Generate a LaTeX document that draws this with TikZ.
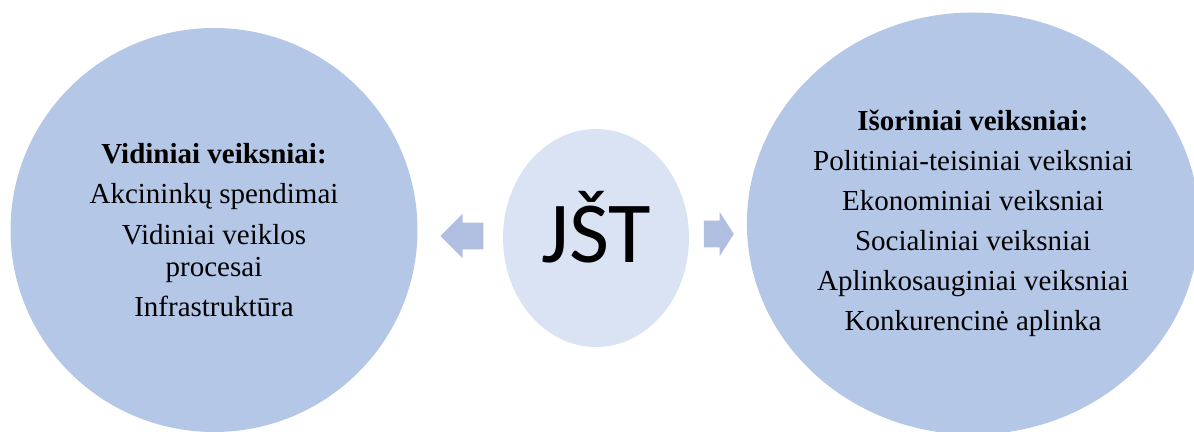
\documentclass[tikz,border=0pt]{standalone}
\usepackage{fontspec}
\setmainfont{Liberation Serif}
\newfontfamily\calibri{Carlito}
\usepackage{xcolor}
\usetikzlibrary{shapes.geometric,shapes.arrows}
\definecolor{circleblue}{HTML}{B4C7E7}
\definecolor{paleblue}{HTML}{DAE3F3}
\definecolor{arrowblue}{HTML}{B0BEE0}

\begin{document}
\begin{tikzpicture}[x=0.5pt, y=-0.5pt,
        factor/.style={ellipse, fill=circleblue, inner sep=0pt, align=center,
            font=\fontsize{14.5}{16}\selectfont},
        blockarrow/.style={single arrow, fill=arrowblue, inner xsep=0pt, inner ysep=6.5pt,
            single arrow head extend=4.5pt}]
        % Page frame
        \useasboundingbox (0,0) rectangle (1194,432);
        \clip (0,0) rectangle (1194,432);

        % Factor circles
        \node[factor, minimum width=203.5pt, minimum height=202pt] (vidiniai) at (214,230) {
            \textbf{Vidiniai veiksniai:}\\[4.25pt]
            Akcininkų spendimai\\[4.25pt]
            Vidiniai veiklos\\
            procesai\\[4.25pt]
            Infrastruktūra};
        \node[factor, minimum width=222pt, minimum height=211pt] (isoriniai) at (973,223.5) {
            \textbf{Išoriniai veiksniai:}\\[4pt]
            Politiniai-teisiniai veiksniai\\[4pt]
            Ekonominiai veiksniai\\[4pt]
            Socialiniai veiksniai\\[4pt]
            Aplinkosauginiai veiksniai\\[4pt]
            Konkurencinė aplinka};

        % Centre
        \node[ellipse, fill=paleblue, inner sep=0pt, minimum width=93pt, minimum height=109pt,
            text depth=11.5pt, font=\calibri\fontsize{43.5}{44}\selectfont] (jst) at (596,238) {JŠT};

        % Arrows
        \node[blockarrow, minimum height=21.5pt, shape border rotate=180] (inward) at (468.5,236) {};
        \node[blockarrow, minimum height=15pt, single arrow tip angle=115] (outward) at (714.5,234) {};
    \end{tikzpicture}
\end{document}
